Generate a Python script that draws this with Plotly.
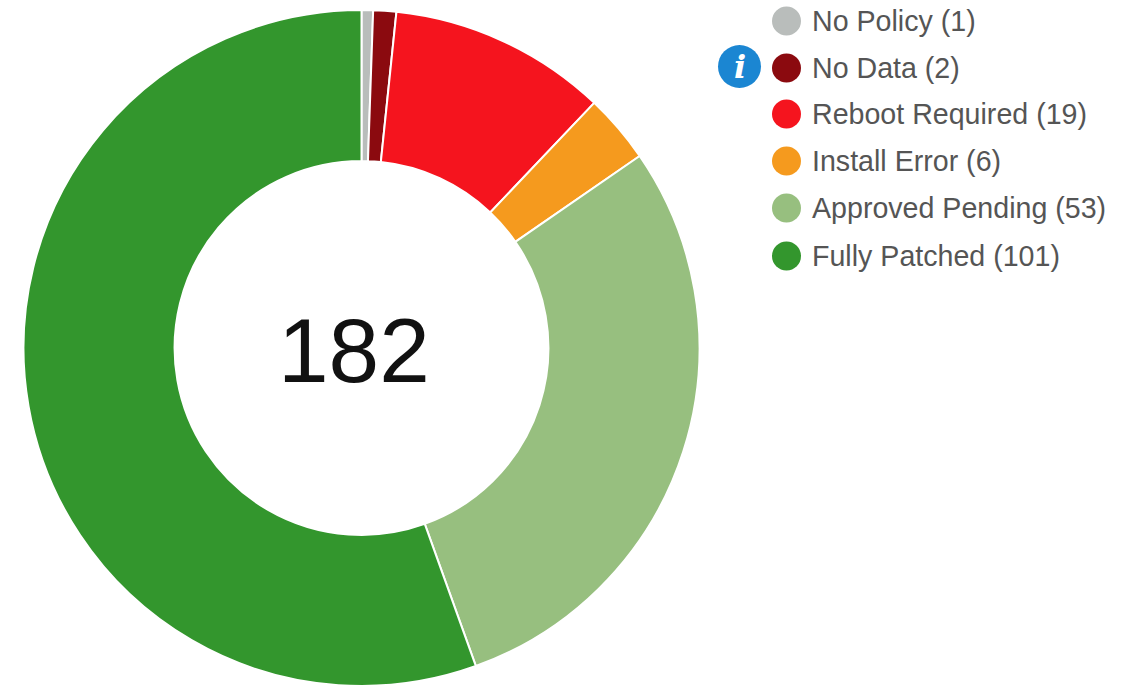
import plotly.graph_objects as go

labels = ["No Policy", "No Data", "Reboot Required", "Install Error", "Approved Pending", "Fully Patched"]
values = [1, 2, 19, 6, 53, 101]
colors = ["#b9bdbb", "#8b0a0f", "#f5141e", "#f59a1e", "#97bf7f", "#33962d"]
total_text = "182"

W, H = 1135, 686
cx, cy, R = 361.5, 348, 338
legend_x = 786.5
legend_y = [21, 68, 114, 161, 208, 256]

def px(x):
    return x / W

def py(y):
    return 1 - y / H

fig = go.Figure(go.Pie(
    labels=labels, values=values, hole=0.553, sort=False, direction="clockwise", rotation=0,
    marker=dict(colors=colors, line=dict(color="white", width=2)),
    textinfo="none", showlegend=False,
    domain=dict(x=[px(cx - R), px(cx + R)], y=[max(0, py(cy + R)), py(cy - R)]),
))
fig.add_annotation(x=px(354), y=py(350), xref="paper", yref="paper", text=total_text,
                   showarrow=False, xanchor="center", yanchor="middle",
                   font=dict(family="Liberation Sans, Arial", size=91, color="#111111"))
shapes = []
for l, v, c, y in zip(labels, values, colors, legend_y):
    shapes.append(dict(type="circle", xref="paper", yref="paper", x0=px(legend_x - 14.5), x1=px(legend_x + 14.5),
                       y0=py(y + 14.5), y1=py(y - 14.5), fillcolor=c, line_width=0))
    fig.add_annotation(x=px(810), y=py(y), xref="paper", yref="paper", xanchor="left", yanchor="middle",
                       text=f"{l} ({v})", showarrow=False,
                       font=dict(family="Liberation Sans, Arial", size=28.6, color="#555555"))
shapes.append(dict(type="circle", xref="paper", yref="paper", x0=px(718), x1=px(761),
                   y0=py(88), y1=py(45), fillcolor="#1b86d2", line_width=0))
fig.add_annotation(x=px(740), y=py(67), xref="paper", yref="paper", xanchor="center", yanchor="middle",
                   text="<b><i>i</i></b>", showarrow=False,
                   font=dict(family="DejaVu Serif", size=32, color="white"))
fig.update_layout(width=W, height=H, margin=dict(l=0, r=0, t=0, b=0), paper_bgcolor="white", shapes=shapes)
fig.write_html("out.html", config=dict(displayModeBar=False),
               post_script="document.body.style.margin='0';document.documentElement.style.overflow='hidden';")
